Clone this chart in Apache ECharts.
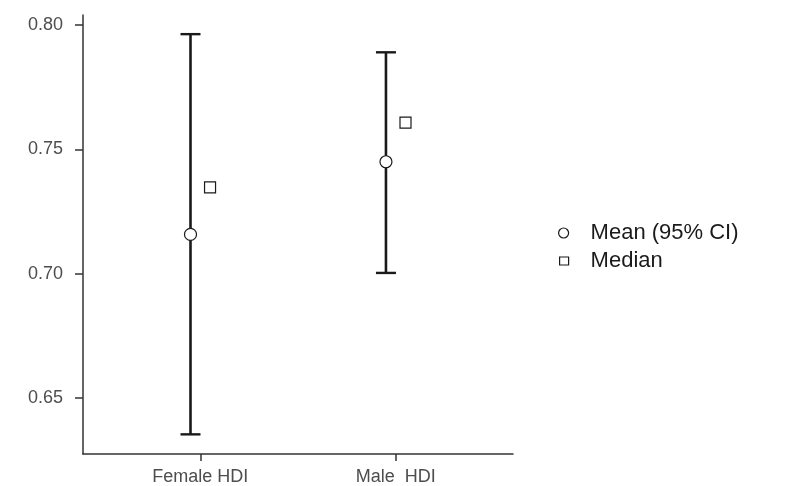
<!DOCTYPE html>
<html>
<head>
<meta charset="utf-8">
<script src="https://cdn.jsdelivr.net/npm/echarts@6/dist/echarts.min.js"></script>
<style>
html,body{margin:0;padding:0;background:#fff;}
#chart{width:810px;height:486px;}
</style>
</head>
<body>
<div id="chart"></div>
<script>
// ---- data ----
const categories = ['Female HDI', 'Male  HDI'];
const meanValues = [0.7158, 0.7450];
const ciLower = [0.6354, 0.7003];
const ciUpper = [0.7963, 0.7890];
const medianValues = [0.7347, 0.7607];
const yTicks = [0.65, 0.70, 0.75, 0.80];

const dodge = 0.05;
const catPos = categories.map((c, i) => i + 1);

const chart = echarts.init(document.getElementById('chart'));
const ink = '#1a1a1a';

const option = {
  animation: false,
  backgroundColor: '#ffffff',
  grid: { left: 83, right: 297, top: 15, bottom: 32, containLabel: false },
  xAxis: {
    type: 'value', min: 0.4, max: 2.6,
    splitLine: { show: false },
    axisLine: { show: true, lineStyle: { color: '#333333', width: 1.5 } },
    axisTick: { show: true, length: 7, customValues: catPos, lineStyle: { color: '#333333', width: 1.5 } },
    axisLabel: {
      customValues: catPos, margin: 14, color: '#4d4d4d', fontSize: 18,
      fontFamily: 'Liberation Sans, Arial, sans-serif',
      formatter: v => categories[Math.round(v) - 1] || ''
    }
  },
  yAxis: {
    type: 'value', min: 0.6275, max: 0.804,
    splitLine: { show: false },
    axisLine: { show: true, lineStyle: { color: '#333333', width: 1.5 } },
    axisTick: { show: true, length: 8, customValues: yTicks, lineStyle: { color: '#333333', width: 1.5 } },
    axisLabel: {
      customValues: yTicks, margin: 20, color: '#4d4d4d', fontSize: 18,
      fontFamily: 'Liberation Sans, Arial, sans-serif',
      formatter: v => v.toFixed(2)
    }
  },
  legend: {
    orient: 'vertical', left: 541, top: 222, padding: 0, itemGap: 6,
    itemWidth: 44, itemHeight: 10,
    textStyle: { fontSize: 22, color: ink, fontFamily: 'Liberation Sans, Arial, sans-serif' },
    data: [
      { name: 'Mean (95% CI)', icon: 'circle', itemStyle: { color: '#fff', borderColor: ink, borderWidth: 1.2 } },
      { name: 'Median', icon: 'path://M0,0M18,1L27,1L27,9L18,9ZM44,10', itemStyle: { color: '#fff', borderColor: ink, borderWidth: 1.2 } }
    ]
  },
  series: [
    {
      type: 'custom',
      name: 'CI',
      z: 1,
      data: categories.map((c, i) => [catPos[i] - dodge, ciLower[i], ciUpper[i]]),
      renderItem: function (params, api) {
        const x = api.value(0);
        const lo = api.coord([x, api.value(1)]);
        const hi = api.coord([x, api.value(2)]);
        const hw = 10;
        return {
          type: 'group',
          children: [
            { type: 'line', shape: { x1: lo[0], y1: lo[1], x2: hi[0], y2: hi[1] }, style: { stroke: ink, lineWidth: 2.6 } },
            { type: 'line', shape: { x1: hi[0] - hw, y1: hi[1], x2: hi[0] + hw, y2: hi[1] }, style: { stroke: ink, lineWidth: 2.4 } },
            { type: 'line', shape: { x1: lo[0] - hw, y1: lo[1], x2: lo[0] + hw, y2: lo[1] }, style: { stroke: ink, lineWidth: 2.4 } }
          ]
        };
      }
    },
    {
      type: 'scatter',
      name: 'Mean (95% CI)',
      z: 3,
      symbol: 'circle', symbolSize: 12,
      itemStyle: { color: '#ffffff', borderColor: ink, borderWidth: 1.2, opacity: 1 },
      data: categories.map((c, i) => [catPos[i] - dodge, meanValues[i]])
    },
    {
      type: 'scatter',
      name: 'Median',
      z: 3,
      symbol: 'rect', symbolSize: 11,
      itemStyle: { color: '#ffffff', borderColor: ink, borderWidth: 1.2, opacity: 1 },
      data: categories.map((c, i) => [catPos[i] + dodge, medianValues[i]])
    }
  ]
};
chart.setOption(option);
</script>
</body>
</html>
